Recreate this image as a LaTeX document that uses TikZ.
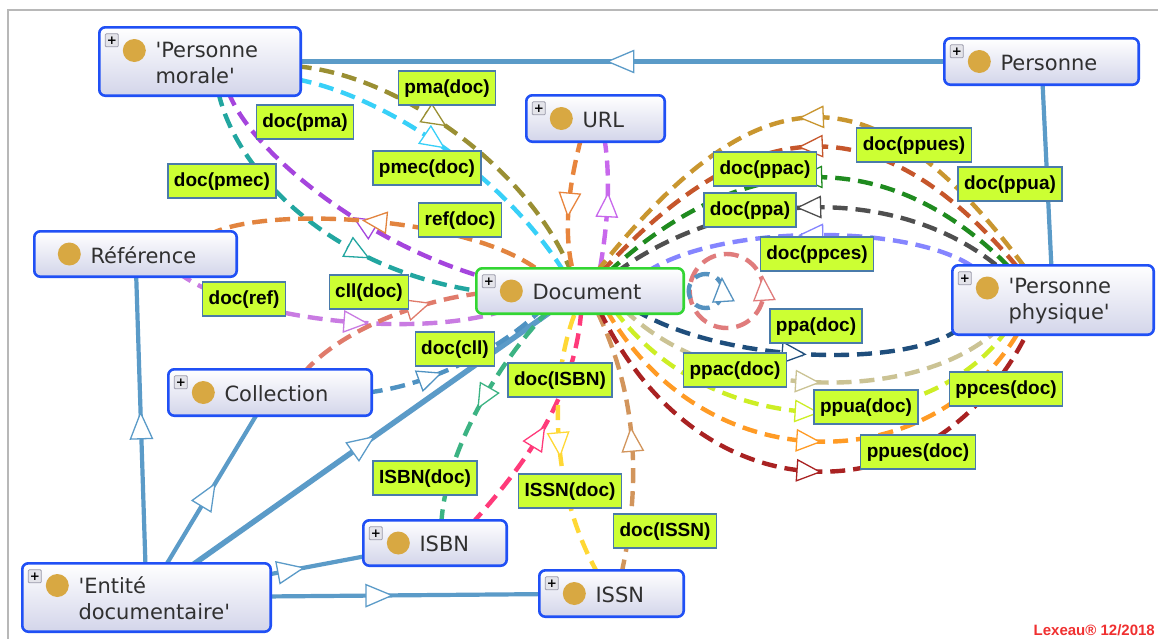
\documentclass[tikz,border=0pt]{standalone}
\usepackage{fontspec}
\setmainfont{DejaVu Sans}[Ligatures=TeXOff]
\newfontfamily\lblfont{Liberation Sans}
\usetikzlibrary{calc,decorations.markings}
\pgfdeclarelayer{edges}
\pgfsetlayers{edges,main}

\definecolor{clsblue}{HTML}{2050F5}
\definecolor{docgreen}{HTML}{33D633}
\definecolor{clsbot}{HTML}{D3D5EA}
\definecolor{dotgold}{HTML}{D8A842}
\definecolor{txtgray}{HTML}{303030}
\definecolor{lblfill}{HTML}{CCFF33}
\definecolor{lbledge}{HTML}{4A7BAA}
\definecolor{isablue}{HTML}{5B9BC8}
\definecolor{framegray}{HTML}{B8B8B8}
\definecolor{footred}{HTML}{F03030}
\definecolor{plusfill}{HTML}{E4E4EA}
\definecolor{plusedge}{HTML}{9A9AAA}
\definecolor{cOlive}{HTML}{9A8F33}
\definecolor{cCyan}{HTML}{38D0F8}
\definecolor{cPurple}{HTML}{A545DD}
\definecolor{cTeal}{HTML}{22A6A0}
\definecolor{cOrangeRef}{HTML}{E2843F}
\definecolor{cViolet}{HTML}{C97BE2}
\definecolor{cCoral}{HTML}{E07B6B}
\definecolor{cSteel}{HTML}{4F92C2}
\definecolor{cSea}{HTML}{3CB383}
\definecolor{cPink}{HTML}{FF3A7A}
\definecolor{cYellow}{HTML}{FFD835}
\definecolor{cTan}{HTML}{D2955C}
\definecolor{cUrlOr}{HTML}{E8853D}
\definecolor{cUrlVi}{HTML}{C868EC}
\definecolor{cLoopB}{HTML}{5592C0}
\definecolor{cLoopC}{HTML}{E07C7C}
\definecolor{cGold}{HTML}{C9962F}
\definecolor{cRust}{HTML}{C6562B}
\definecolor{cGreen}{HTML}{1F8B1F}
\definecolor{cGray}{HTML}{4F4F4F}
\definecolor{cPeri}{HTML}{8585FF}
\definecolor{cNavy}{HTML}{1F4E7C}
\definecolor{cKhaki}{HTML}{CBC394}
\definecolor{cLime}{HTML}{CDEE25}
\definecolor{cOrange}{HTML}{FF9B25}
\definecolor{cDRed}{HTML}{A92222}

\tikzset{
  cls/.style={draw=clsblue, line width=2.6pt, rounded corners=6pt, top color=white, bottom color=clsbot, inner sep=0pt, outer sep=0pt},
  clstext/.style={font=\fontsize{21}{26}\selectfont, text=txtgray, align=left, inner sep=0pt, anchor=west},
  plusbox/.style={draw=plusedge, fill=plusfill, line width=0.8pt, rounded corners=1pt, minimum size=13pt, inner sep=0pt, font=\fontsize{12}{12}\selectfont\bfseries},
  lbl/.style={draw=lbledge, fill=lblfill, line width=1.3pt, font=\lblfont\bfseries\fontsize{19}{19}\selectfont, text=black, inner xsep=6pt, inner ysep=0pt, minimum height=34pt, text height=14pt, text depth=4pt},
  isa/.style={draw=isablue, line width=4.2pt},
  dl/.style={draw=#1, line width=4.4pt, dash pattern=on 15pt off 8pt},
  mf/.style 2 args={postaction={decorate, decoration={markings, mark=at position #2 with {\draw[draw=#1, solid, line width=1.3pt, fill=white] (11.5pt,0pt) -- (-11.5pt,10.5pt) -- (-11.5pt,-10.5pt) -- cycle;}}}},
  mb/.style 2 args={postaction={decorate, decoration={markings, mark=at position #2 with {\draw[draw=#1, solid, line width=1.3pt, fill=white] (-11.5pt,0pt) -- (11.5pt,10.5pt) -- (11.5pt,-10.5pt) -- cycle;}}}},
  mi/.style={postaction={decorate, decoration={markings, mark=at position 0.5 with {\draw[draw=isablue, solid, line width=1.3pt, fill=white] (13pt,0pt) -- (-13pt,11pt) -- (-13pt,-11pt) -- cycle;}}}},
  foot/.style={text=footred, font=\lblfont\bfseries\fontsize{15}{15}\selectfont, inner sep=0pt, anchor=base east}
}

% name, cx, cy, w, h, border, circle dy, text
\newcommand\ogclass[8]{%
  \node[cls, draw=#6, minimum width=#4-2.6, minimum height=#5-2.6] (#1) at (#2,#3) {};
  \fill[dotgold] ($(#1.west)+(35,#7)$) circle (11.5pt);
  \node[clstext] (#1-t) at ($(#1.west)+(56,1)$) {#8};
}
\newcommand\ogplus[1]{\node[plusbox] (#1-p) at ($(#1.north west)+(12.5,13)$) {+};}

\begin{document}
\begin{tikzpicture}[x=1pt,y=-1pt]
\useasboundingbox (0,0) rectangle (1158,638);

% classes
\ogclass{pm}{200}{61.5}{204}{71}{clsblue}{-11}{'Personne\\morale'}
\ogplus{pm}
\ogclass{pers}{1041.5}{61.5}{197}{49}{clsblue}{0}{Personne}
\ogplus{pers}
\ogclass{url}{595.5}{118.5}{141}{49}{clsblue}{0}{URL}
\ogplus{url}
\ogclass{ref}{135.5}{254}{205}{48}{clsblue}{0}{Référence}
\ogclass{doc}{580}{291}{210}{48}{docgreen}{0}{Document}
\ogplus{doc}
\ogclass{pp}{1053}{300}{204}{72}{clsblue}{-12}{'Personne\\physique'}
\ogplus{pp}
\ogclass{coll}{270}{392.5}{206}{49}{clsblue}{0}{Collection}
\ogplus{coll}
\ogclass{ent}{146.5}{597.5}{251}{71}{clsblue}{-12}{'Entité\\documentaire'}
\ogplus{ent}
\ogclass{isbn}{435}{543}{146}{48}{clsblue}{0}{ISBN}
\ogplus{isbn}
\ogclass{issn}{611.5}{593.5}{147}{49}{clsblue}{0}{ISSN}
\ogplus{issn}

\begin{pgfonlayer}{edges}
\fill[white] (0,0) rectangle (1158,638);
\draw[framegray, line width=2pt] (7.5,640) -- (7.5,10) -- (1160,10);

% subclass links
\draw[isa, mi] (pers.center) -- (pm.center);
\draw[isa, mi] (pers.center) -- (pp.center);
\draw[isa, mi] (ent.center) -- (ref.center);
\draw[isa, mi] (ent.center) -- (coll.center);
\draw[isa, mi, line width=5.5pt] (ent.center) -- (doc.center);
\draw[isa, mi] (ent.center) -- (isbn.center);
\draw[isa, mi] (ent.center) -- (issn.center);

% Personne morale <-> Document
\draw[dl=cOlive, mf={cOlive}{0.42}] ($(pm.north east)+(-4,39)$) .. controls (400,75) and (530,170) .. ($(doc.north west)+(95,4)$);
\draw[dl=cCyan, mf={cCyan}{0.45}] ($(pm.north east)+(-4,52)$) .. controls (380,95) and (500,170) .. ($(doc.north west)+(88,4)$);
\draw[dl=cPurple, mb={cPurple}{0.6}] ($(pm.south west)+(129,-4)$) .. controls (250,150) and (360,240) .. ($(doc.north west)+(4,8)$);
\draw[dl=cTeal, mf={cTeal}{0.63}] ($(pm.south west)+(119,-4)$) .. controls (235,170) and (330,270) .. ($(doc.north west)+(4,23)$);
% Reference
\draw[dl=cOrangeRef, mb={cOrangeRef}{0.49}] ($(ref.north west)+(174,4)$) .. controls (260,205) and (470,215) .. ($(doc.north west)+(65,4)$);
\draw[dl=cViolet, mf={cViolet}{0.55}] ($(ref.south west)+(144,-4)$) .. controls (240,320) and (420,340) .. ($(doc.south west)+(30,-4)$);
% Collection
\draw[dl=cCoral, mf={cCoral}{0.68}] ($(coll.north west)+(135,4)$) .. controls (340,330) and (420,300) .. ($(doc.north west)+(4,25)$);
\draw[dl=cSteel, mf={cSteel}{0.33}] ($(coll.east)+(-4,0)$) .. controls (430,385) and (500,350) .. ($(doc.south west)+(65,-4)$);
% ISBN
\draw[dl=cSea, mb={cSea}{0.55}] ($(isbn.north west)+(78,4)$) .. controls (445,450) and (500,360) .. ($(doc.south west)+(73,-4)$);
\draw[dl=cPink, mf={cPink}{0.45}] ($(isbn.north west)+(108,4)$) .. controls (520,470) and (575,400) .. ($(doc.south west)+(105,-4)$);
% ISSN
\draw[dl=cYellow, mb={cYellow}{0.5}] ($(issn.north west)+(59,4)$) .. controls (550,490) and (548,380) .. ($(doc.south west)+(100,-4)$);
\draw[dl=cTan, mf={cTan}{0.5}] ($(issn.north west)+(82,4)$) .. controls (640,490) and (640,400) .. ($(doc.south west)+(120,-4)$);
% URL
\draw[dl=cUrlOr, mf={cUrlOr}{0.5}] ($(url.south west)+(55,-4)$) .. controls (570,180) and (562,230) .. ($(doc.north west)+(97,4)$);
\draw[dl=cUrlVi, mb={cUrlVi}{0.5}] ($(url.south west)+(78,-4)$) .. controls (612,185) and (606,235) .. ($(doc.north west)+(123,4)$);
% self loops
\draw[dl=cLoopC, mf={cLoopC}{0.01}] ($(doc.east)+(43,0)$) circle (37pt);
\draw[dl=cLoopB, mf={cLoopB}{0.01}] ($(doc.east)+(22,0)$) circle (17pt);
% Document -> Personne physique (upper)
\draw[dl=cGold, mb={cGold}{0.5}] ($(doc.north west)+(120,4)$) .. controls (760,66) and (876,66) .. ($(pp.north west)+(74,4)$);
\draw[dl=cRust, mb={cRust}{0.5}] ($(doc.north west)+(125,4)$) .. controls (755,105) and (882,105) .. ($(pp.north west)+(67,4)$);
\draw[dl=cGreen, mb={cGreen}{0.5}] ($(doc.north west)+(132,4)$) .. controls (745,146) and (892,146) .. ($(pp.north west)+(59,4)$);
\draw[dl=cGray, mb={cGray}{0.5}] ($(doc.north west)+(140,4)$) .. controls (735,186) and (904,186) .. ($(pp.north west)+(49,4)$);
\draw[dl=cPeri, mb={cPeri}{0.5}] ($(doc.north west)+(170,4)$) .. controls (720,223) and (916,223) .. ($(pp.north west)+(24,4)$);
% Document -> Personne physique (lower)
\draw[dl=cNavy, mf={cNavy}{0.5}] ($(doc.south west)+(158,-4)$) .. controls (730,366) and (905,366) .. ($(pp.south west)+(4,-4)$);
\draw[dl=cKhaki, mf={cKhaki}{0.5}] ($(doc.south west)+(148,-4)$) .. controls (720,403) and (917,403) .. ($(pp.south west)+(44,-4)$);
\draw[dl=cLime, mf={cLime}{0.5}] ($(doc.south west)+(138,-4)$) .. controls (712,443) and (925,443) .. ($(pp.south west)+(54,-4)$);
\draw[dl=cOrange, mf={cOrange}{0.5}] ($(doc.south west)+(130,-4)$) .. controls (705,482) and (930,482) .. ($(pp.south west)+(67,-4)$);
\draw[dl=cDRed, mf={cDRed}{0.5}] ($(doc.south west)+(123,-4)$) .. controls (700,522) and (934,522) .. ($(pp.south west)+(76,-4)$);
\end{pgfonlayer}

% labels
\node[lbl] (l-pmadoc) at (447,88) {pma(doc)};
\node[lbl] (l-docpma) at (305,122) {doc(pma)};
\node[lbl] (l-pmecdoc) at (427,168) {pmec(doc)};
\node[lbl] (l-docpmec) at (222,181) {doc(pmec)};
\node[lbl] (l-refdoc) at (460,220) {ref(doc)};
\node[lbl] (l-docref) at (244,299) {doc(ref)};
\node[lbl] (l-clldoc) at (369,292) {cll(doc)};
\node[lbl] (l-doccll) at (455,349) {doc(cll)};
\node[lbl] (l-docisbn) at (560,380) {doc(ISBN)};
\node[lbl] (l-isbndoc) at (425,478) {ISBN(doc)};
\node[lbl] (l-issndoc) at (570,491) {ISSN(doc)};
\node[lbl] (l-docissn) at (665,531) {doc(ISSN)};
\node[lbl] (l-docppues) at (914,145) {doc(ppues)};
\node[lbl] (l-docppua) at (1010,184) {doc(ppua)};
\node[lbl] (l-docppac) at (765,169) {doc(ppac)};
\node[lbl] (l-docppa) at (750,210) {doc(ppa)};
\node[lbl] (l-docppces) at (817,254) {doc(ppces)};
\node[lbl] (l-ppadoc) at (816,326) {ppa(doc)};
\node[lbl] (l-ppacdoc) at (735,370) {ppac(doc)};
\node[lbl] (l-ppuadoc) at (866,407) {ppua(doc)};
\node[lbl] (l-ppcesdoc) at (1006,389) {ppces(doc)};
\node[lbl] (l-ppuesdoc) at (918,452) {ppues(doc)};

\node[foot] (footer) at (1155,635) {Lexeau® 12/2018};
\end{tikzpicture}
\end{document}
